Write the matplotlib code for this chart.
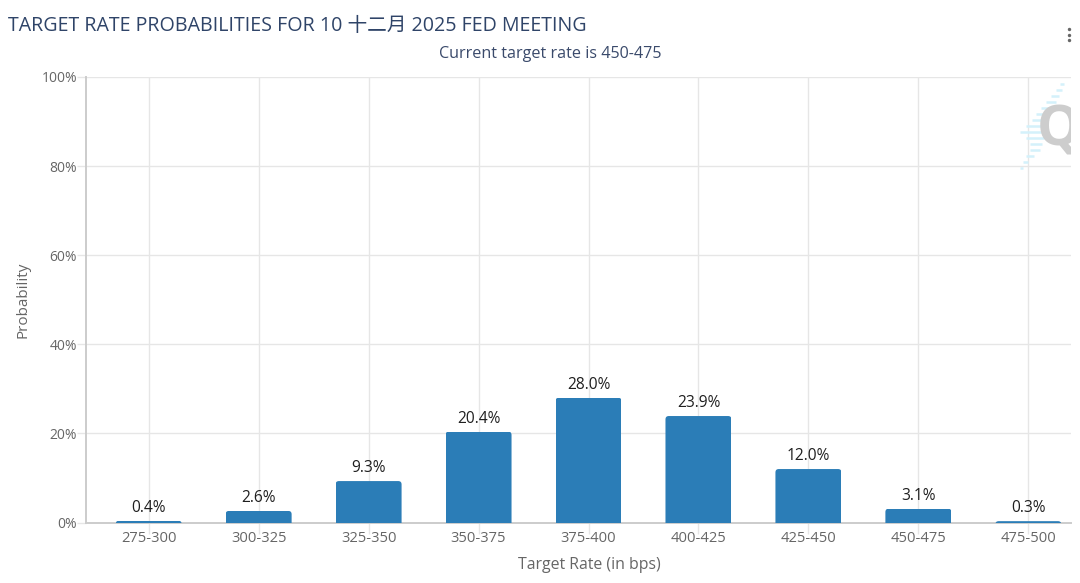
import matplotlib
matplotlib.use('Agg')
import matplotlib.pyplot as plt
from matplotlib.patches import FancyBboxPatch

plt.rcParams['font.family'] = ['Open Sans', 'Noto Sans CJK SC', 'DejaVu Sans']

# data
rates = ['275-300', '300-325', '325-350', '350-375', '375-400', '400-425', '425-450', '450-475', '475-500']
probs = [0.4, 2.6, 9.3, 20.4, 28.0, 23.9, 12.0, 3.1, 0.3]
yticks = [0, 20, 40, 60, 80, 100]

W, H = 1080, 583
fig = plt.figure(figsize=(W / 100, H / 100), dpi=100, facecolor='white')

# plot area in pixels
left, right, top, bottom = 86, 1071, 77, 522.5
ax = fig.add_axes([left / W, 1 - bottom / H, (right - left) / W, (bottom - top) / H])
ax.set_xlim(-0.57, 8.388)
ax.set_ylim(0, 100)
ax.set_axisbelow(True)

ax.grid(True, color='#e6e6e6', lw=1.0)
for s in ['top', 'right']:
    ax.spines[s].set_visible(False)
ax.spines['left'].set_color('#cccccc')
ax.spines['left'].set_linewidth(1.4)
ax.spines['bottom'].set_color('#cccccc')
ax.spines['bottom'].set_linewidth(1.4)

ax.set_xticks(range(len(rates)))
ax.set_xticklabels(rates)
ax.set_yticks(yticks)
ax.set_yticklabels([str(v) + '%' for v in yticks])
ax.tick_params(axis='x', length=8, width=1.0, color='#e6e6e6', labelsize=10.6, labelcolor='#666666', pad=-2)
ax.tick_params(axis='y', length=6.5, width=1.0, color='#e6e6e6', labelsize=10, labelcolor='#666666', pad=0)

ax.set_xlabel('Target Rate (in bps)', fontsize=11.4, color='#666666', labelpad=8, x=0.5107)
ax.set_ylabel('Probability', fontsize=11, color='#666666', labelpad=8)

bars = ax.bar(range(len(rates)), probs, width=0.6, color='#2b7db7', zorder=3)

# rounded top corners, bottoms get cut off by the axis
for b, v in zip(bars, probs):
    r = FancyBboxPatch((b.get_x(), -3), b.get_width(), v + 3,
                       boxstyle='round,pad=0,rounding_size=0.03', mutation_aspect=25)
    r.set_transform(ax.transData)
    b.set_clip_path(r)

for i, v in enumerate(probs):
    ax.annotate('%.1f%%' % v, (i, v), xytext=(0, 3.5), textcoords='offset points',
                ha='center', va='bottom', fontsize=11.2, color='#1f1f1f')

# page level stuff in pixel coordinates
ov = fig.add_axes([0, 0, 1, 1], facecolor='none')
ov.set_xlim(0, W)
ov.set_ylim(H, 0)
ov.axis('off')

ov.text(8, 26, 'TARGET RATE PROBABILITIES FOR 10 十二月 2025 FED MEETING',
        fontsize=14.15, color='#2f4468', va='center', ha='left')
ov.text(550, 54, 'Current target rate is 450-475',
        fontsize=11.6, color='#3a4a6b', va='center', ha='center')

# menu dots
ov.scatter([1069, 1069, 1069], [28.5, 34.5, 40], s=6, color='#666666', linewidths=0)

# watermark
stripes = [(1060, 1064, 84), (1056, 1062, 90), (1051, 1059, 96), (1046, 1056, 102), (1041, 1054, 108),
           (1036, 1050, 114), (1032, 1048, 120), (1026, 1046, 126), (1020, 1044, 132), (1026, 1044, 138),
           (1030, 1042, 144), (1030, 1040, 150), (1026, 1034, 156), (1023, 1028, 162), (1020, 1023, 168)]
for x0, x1, y in stripes:
    ov.plot([x0, x1], [y, y], color='#d4f1fb', lw=1.8, solid_capstyle='butt')
q = ov.text(1037, 131, 'Q', fontsize=40, fontweight='bold', color='#cdcdcd', va='center', ha='left')
q.set_clip_on(True)
q.set_clip_path(plt.Rectangle((0, 0), right, H, transform=ov.transData))

fig.savefig('out.png', dpi=100)
